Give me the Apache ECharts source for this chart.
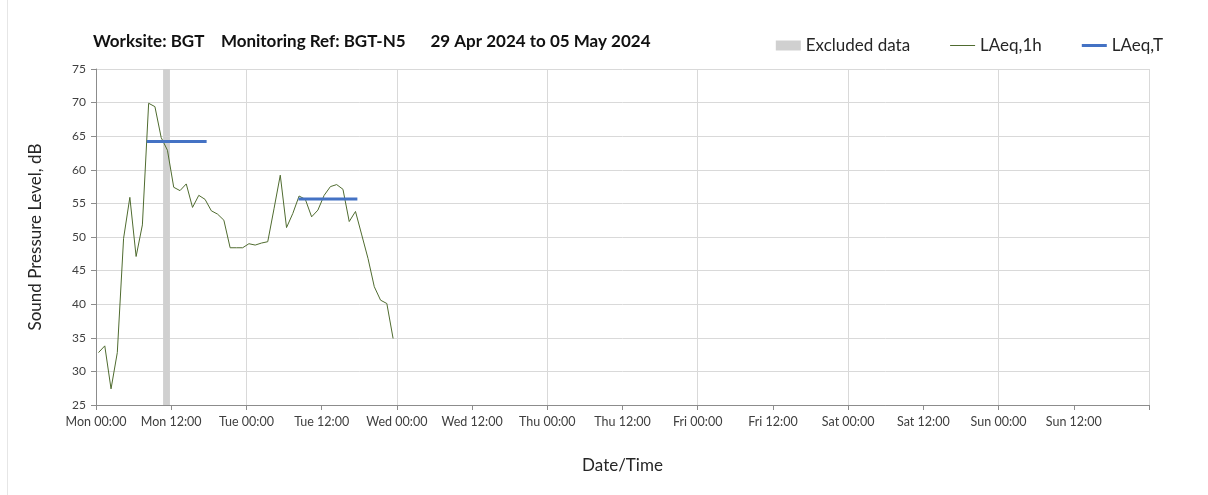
<!DOCTYPE html>
<html>
<head>
<meta charset="utf-8">
<script src="https://cdn.jsdelivr.net/npm/echarts@6/dist/echarts.min.js"></script>
<style>
  html, body { margin: 0; padding: 0; background: #fff; }
  #chart { width: 1208px; height: 495px; }
</style>
</head>
<body>
<div id="chart"></div>
<script>
const dayNames = ["Mon", "Tue", "Wed", "Thu", "Fri", "Sat", "Sun"];

// hourly readings, plotted ~24 min past each hour (hours since Mon 00:00)
const hourOffset = 0.4;
const laeq1h = [
  32.8, 33.8, 27.4, 32.8, 49.8, 55.9, 47.1, 51.8,
  69.9, 69.4, 64.8, 62.9, 57.4, 56.9, 57.9, 54.4,
  56.2, 55.6, 53.9, 53.4, 52.5, 48.4, 48.4, 48.4,
  49.0, 48.8, 49.1, 49.3, 54.2, 59.2, 51.4, 53.5,
  56.1, 55.6, 53.0, 54.0, 56.2, 57.5, 57.8, 57.1,
  52.3, 53.8, 50.3, 46.8, 42.6, 40.6, 40.1, 34.9,
];

// [start hour, end hour, level]
const laeqT = [
  [8.1, 17.65, 64.2],
  [32.3, 41.7, 55.65],
];

// excluded period [start hour, end hour]
const excluded = [10.7, 11.8];

const chart = echarts.init(document.getElementById("chart"));
const font = "Lato, 'Open Sans', sans-serif";

function hourLabel(v) {
  if (v >= 168) return "";
  const day = dayNames[Math.floor(v / 24)];
  const h = v % 24;
  return day + " " + String(h).padStart(2, "0") + ":00";
}

const lineData = laeq1h.map((v, i) => [i + hourOffset, v]);

const tSeries = laeqT.map((p) => ({
  name: "LAeq,T",
  type: "line",
  showSymbol: false,
  symbol: "none",
  silent: true,
  itemStyle: { color: "#4472c4" },
  lineStyle: { color: "#4472c4", width: 3 },
  data: [[p[0], p[2]], [p[1], p[2]]],
  z: 4,
}));

chart.setOption({
  animation: false,
  textStyle: { fontFamily: font },
  title: {
    text: "Worksite: BGT    Monitoring Ref: BGT-N5      29 Apr 2024 to 05 May 2024",
    left: 88,
    top: 28,
    textStyle: { fontFamily: font, fontSize: 17, fontWeight: "bold", color: "#111" },
  },
  legend: {
    right: 40,
    top: 32,
    itemWidth: 25,
    itemHeight: 10,
    itemGap: 40,
    textStyle: { fontFamily: font, fontSize: 17, color: "#262626" },
    data: [
      { name: "Excluded data", icon: "path://M0,0H25V10H0Z" },
      { name: "LAeq,1h", icon: "path://M0,0H25V1H0Z" },
      { name: "LAeq,T", icon: "path://M0,0H25V3H0Z" },
    ],
  },
  grid: { left: 96, right: 59, top: 69, bottom: 90, containLabel: false },
  xAxis: [
    {
      type: "value",
      min: 0,
      max: 168,
      interval: 12,
      name: "Date/Time",
      nameLocation: "middle",
      nameGap: 52,
      nameTextStyle: { fontFamily: font, fontSize: 17, color: "#262626" },
      axisLine: { show: true, lineStyle: { color: "#8c8c8c" } },
      axisTick: { show: true, length: 5, lineStyle: { color: "#8c8c8c" } },
      axisLabel: {
        formatter: hourLabel,
        fontFamily: font,
        fontSize: 12.5,
        color: "#404040",
        margin: 10,
      },
      splitLine: { show: false },
    },
    {
      type: "value",
      min: 0,
      max: 168,
      interval: 24,
      position: "bottom",
      axisLine: { show: false },
      axisTick: { show: false },
      axisLabel: { show: false },
      splitLine: { show: true, lineStyle: { color: "#d9d9d9", width: 1 } },
    },
  ],
  yAxis: {
    type: "value",
    min: 25,
    max: 75,
    interval: 5,
    name: "Sound Pressure Level, dB",
    nameLocation: "middle",
    nameGap: 52,
    nameTextStyle: { fontFamily: font, fontSize: 17, color: "#262626" },
    axisLine: { show: true, lineStyle: { color: "#8c8c8c" } },
    axisTick: { show: true, length: 5, lineStyle: { color: "#8c8c8c" } },
    axisLabel: { fontFamily: font, fontSize: 12, color: "#404040", margin: 10 },
    splitLine: { show: true, lineStyle: { color: "#d9d9d9", width: 1 } },
  },
  graphic: [
    {
      type: "line",
      shape: { x1: 7.5, y1: 0, x2: 7.5, y2: 495 },
      style: { stroke: "#e6e6e6", lineWidth: 1 },
      silent: true,
    },
  ],
  series: [
    {
      name: "Excluded data",
      type: "line",
      data: [],
      itemStyle: { color: "#d0d0d0" },
      markArea: {
        silent: true,
        itemStyle: { color: "#d0d0d0" },
        data: [[{ xAxis: excluded[0] }, { xAxis: excluded[1] }]],
      },
      z: 1,
    },
    {
      name: "LAeq,1h",
      type: "line",
      showSymbol: false,
      symbol: "none",
      itemStyle: { color: "#4f6b2f" },
      lineStyle: { color: "#4f6b2f", width: 1 },
      data: lineData,
      z: 3,
    },
    ...tSeries,
  ],
});
</script>
</body>
</html>
